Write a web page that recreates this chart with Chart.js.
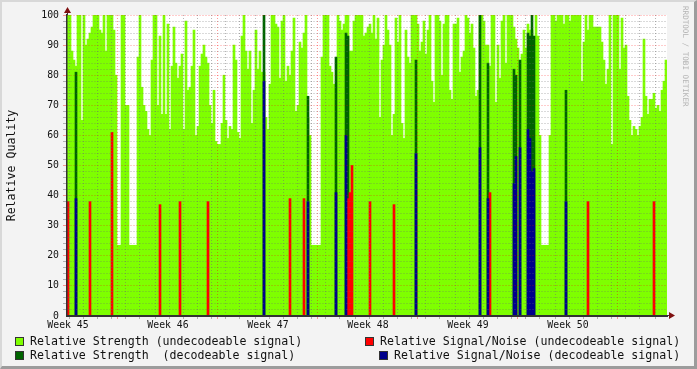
<!DOCTYPE html>
<html>
<head>
<meta charset="utf-8">
<script src="https://cdn.jsdelivr.net/npm/chart.js@4/dist/chart.umd.min.js"></script>
<style>
  html, body { margin: 0; padding: 0; background: #f3f3f3; }
  #wrap { position: relative; width: 697px; height: 369px; overflow: hidden; font-family: "DejaVu Sans Mono", monospace; }
  #c { position: absolute; left: 0; top: 0; }
  #frame { position: absolute; left: 0; top: 0; width: 697px; height: 369px; box-sizing: border-box;
    border-top: 2px solid #d8d8d8; border-left: 2px solid #d8d8d8;
    border-right: 3px solid #9c9c9c; border-bottom: 3px solid #9c9c9c; pointer-events: none; }
  .sw { position: absolute; width: 7px; height: 7px; border: 1px solid #333; }
  .lt { position: absolute; font-size: 11.6px; line-height: 14px; color: #111; white-space: pre; }
  #mark { position: absolute; left: 681px; top: 6px; writing-mode: vertical-rl; font-size: 7.6px;
    color: #b4b4b4; white-space: pre; }
</style>
</head>
<body>
<div id="wrap">
  <canvas id="c" width="697" height="369"></canvas>
  <div id="legend"></div>
  <div id="mark">RRDTOOL / TOBI OETIKER</div>
  <div id="frame"></div>
</div>
<script>
// Semanas no eixo x, 50 amostras por semana (uma a cada ~3,4 h)
const weeks = ['Week 45', 'Week 46', 'Week 47', 'Week 48', 'Week 49', 'Week 50'];
const samplesPerWeek = 50;

// Relative Strength (undecodeable signal) - uma amostra por posição
const strengthUndec = [
  100, 100, 88, 85, 83, 100, 100, 65, 100, 90,
  92, 94, 96, 100, 100, 100, 95, 94, 100, 88,
  100, 100, 100, 95, 80, 23.5, 23.5, 100, 100, 70,
  70, 23.5, 23.5, 23.5, 23.5, 86, 100, 76, 70, 68,
  62, 60, 85, 100, 100, 70, 93, 67, 100, 67,
  97, 62, 83, 96, 84, 79, 83, 87, 62, 98,
  75, 76, 83, 95, 60, 63, 83, 87, 90, 86,
  84, 70, 64, 75, 58, 57, 57, 64, 80, 65,
  59, 63, 62, 90, 85, 61, 59, 93, 100, 88,
  82, 88, 64, 75, 95, 82, 88, 81, 81, 66,
  62, 77, 100, 100, 97, 96, 79, 98, 100, 78,
  83, 80, 88, 99, 68, 70, 91, 89, 94, 100,
  66, 60, 23.5, 23.5, 23.5, 23.5, 23.5, 86, 100, 100,
  100, 83, 81, 77, 76, 100, 98, 95, 97, 100,
  100, 88, 88, 98, 100, 100, 100, 100, 93, 94,
  96, 97, 94, 100, 92, 99, 66, 85, 90, 100,
  95, 90, 60, 67, 99, 91, 100, 64, 59, 95,
  86, 84, 100, 100, 100, 97, 88, 91, 98, 87,
  95, 100, 78, 71, 100, 100, 98, 80, 97, 100,
  100, 75, 72, 97, 97, 99, 81, 86, 88, 100,
  99, 94, 97, 89, 73, 75, 100, 100, 98, 90,
  90, 83, 100, 100, 71, 90, 79, 98, 100, 84,
  100, 100, 100, 96, 92, 89, 76, 87, 95, 89,
  97, 95, 95, 84, 100, 93, 60, 23.5, 23.5, 23.5,
  23.5, 60, 100, 100, 98, 100, 100, 100, 97, 100,
  100, 98, 100, 100, 100, 100, 100, 78, 91, 100,
  95, 100, 100, 96, 96, 96, 96, 91, 85, 77,
  82, 100, 57, 100, 100, 100, 82, 99, 89, 90,
  73, 65, 60, 63, 62, 60, 63, 66, 92, 73,
  67, 72, 72, 74, 69, 70, 68, 75, 78, 85
];

// Relative Strength (decodeable signal) - picos esparsos
const strengthDecIdx = [4, 98, 120, 134, 139, 140, 174, 206, 210, 223, 224, 226, 230, 231, 232, 233, 249];
const strengthDecVal = [81, 100, 73, 86, 94, 93, 85, 100, 84, 82, 80, 85, 94, 93, 100, 93, 75];

// Relative Signal/Noise (undecodeable signal)
const snrUndecIdx = [0, 11, 22, 46, 56, 70, 111, 118, 140, 141, 142, 151, 163, 211, 260, 293];
const snrUndecVal = [38, 38, 61, 37, 38, 38, 39, 39, 39, 41, 50, 38, 37, 41, 38, 38];

// Relative Signal/Noise (decodeable signal)
const snrDecIdx = [4, 98, 120, 134, 139, 174, 206, 210, 223, 224, 226, 230, 231, 232, 233, 249];
const snrDecVal = [39, 78, 38, 41, 60, 54, 56, 39, 44, 53, 56, 62, 59, 48, 49, 38];

const nSamples = weeks.length * samplesPerWeek;
const labels = Array.from({ length: nSamples }, (_, i) => (i % samplesPerWeek === 0 ? weeks[i / samplesPerWeek] : ''));

// Monta uma série completa (null onde não há pico)
function sparse(idx, val) {
  const out = new Array(nSamples).fill(null);
  idx.forEach((k, j) => { out[k] = val[j]; });
  return out;
}

// Linhas de grade: uma por dia (menor) e uma por semana (maior)
const dayLines = new Set();
for (let k = 0; k <= 42; k++) dayLines.add(Math.round(0.65 + k * samplesPerWeek / 7));
const isWeekLine = (i) => i % samplesPerWeek === samplesPerWeek / 2;

const minorColor = 'rgba(110,110,110,0.5)';
const majorColor = 'rgba(255,0,0,0.4)';

function xGridColor(ctx) {
  const i = ctx.index;
  if (i === undefined || i === 0) return 'rgba(0,0,0,0)';
  if (isWeekLine(i)) return majorColor;
  if (dayLines.has(i)) return minorColor;
  return 'rgba(0,0,0,0)';
}

function yGridColor(ctx) {
  const v = ctx.tick ? ctx.tick.value : null;
  if (v === null || v === 0) return 'rgba(0,0,0,0)';
  return v % 10 === 0 ? majorColor : minorColor;
}

const plotBg = {
  id: 'plotBg',
  beforeDraw(chart) {
    const { ctx, chartArea: a } = chart;
    ctx.save();
    ctx.fillStyle = '#ffffff';
    ctx.fillRect(a.left, a.top, a.right - a.left, a.bottom - a.top);
    ctx.restore();
  }
};

// Setas no fim dos eixos
const arrows = {
  id: 'arrows',
  afterDraw(chart) {
    const { ctx, chartArea: a } = chart;
    ctx.save();
    ctx.strokeStyle = '#333';
    ctx.lineWidth = 1;
    ctx.beginPath();
    ctx.moveTo(a.left + 0.5, a.top); ctx.lineTo(a.left + 0.5, a.top - 4);
    ctx.moveTo(a.right, a.bottom - 0.5); ctx.lineTo(a.right + 3, a.bottom - 0.5);
    ctx.stroke();
    ctx.fillStyle = '#7f1010';
    ctx.beginPath();
    ctx.moveTo(a.left - 3, a.top - 2); ctx.lineTo(a.left + 4, a.top - 2); ctx.lineTo(a.left + 0.5, a.top - 8);
    ctx.fill();
    ctx.beginPath();
    ctx.moveTo(a.right + 2, a.bottom - 4); ctx.lineTo(a.right + 2, a.bottom + 3); ctx.lineTo(a.right + 8, a.bottom - 0.5);
    ctx.fill();
    ctx.restore();
  }
};

const barCommon = { grouped: false, barPercentage: 1, categoryPercentage: 1, borderWidth: 0 };

new Chart(document.getElementById('c'), {
  type: 'bar',
  data: {
    labels: labels,
    datasets: [
      { ...barCommon, label: 'Relative Strength (undecodeable signal)', data: strengthUndec, backgroundColor: '#7FFF00', order: 4 },
      { ...barCommon, label: 'Relative Strength  (decodeable signal)', data: sparse(strengthDecIdx, strengthDecVal), backgroundColor: '#006400', order: 3 },
      { ...barCommon, label: 'Relative Signal/Noise (undecodeable signal)', data: sparse(snrUndecIdx, snrUndecVal), backgroundColor: '#FF0000', order: 2 },
      { ...barCommon, label: 'Relative Signal/Noise (decodeable signal)', data: sparse(snrDecIdx, snrDecVal), backgroundColor: '#00008B', order: 1 }
    ]
  },
  options: {
    responsive: false,
    animation: false,
    layout: { padding: { left: 0, top: 15, right: 30, bottom: 0 } },
    plugins: { legend: { display: false }, tooltip: { enabled: false } },
    scales: {
      x: {
        offset: true,
        grid: { z: 1, offset: true, color: xGridColor, tickColor: xGridColor, lineWidth: 1, tickLength: 3 },
        border: { z: 2, display: true, color: '#333', width: 2, dash: [1, 2] },
        ticks: {
          autoSkip: false, maxRotation: 0, minRotation: 0, padding: 1,
          color: '#111', font: { family: 'DejaVu Sans Mono', size: 9.8 }
        },
        afterFit(scale) { scale.height = 53; }
      },
      y: {
        min: 0,
        max: 100,
        grid: { z: 1, color: yGridColor, tickColor: yGridColor, lineWidth: 1, tickLength: 4 },
        border: { z: 2, display: true, color: '#333', width: 1.5, dash: [1, 2] },
        ticks: {
          autoSkip: false, stepSize: 2, padding: 4, color: '#111',
          font: { family: 'DejaVu Sans Mono', size: 9.8 },
          callback: (v) => (v % 10 === 0 ? v : '')
        },
        title: {
          display: true, text: 'Relative Quality', color: '#111',
          font: { family: 'DejaVu Sans Mono', size: 11.6 }, padding: { top: 5, bottom: 0 }
        },
        afterFit(scale) { scale.width = 67; }
      }
    }
  },
  plugins: [plotBg, arrows]
});

// Legenda em duas colunas, como no gráfico original
const legendItems = [
  { text: 'Relative Strength (undecodeable signal)', color: '#7FFF00', x: 15, y: 337 },
  { text: 'Relative Strength  (decodeable signal)', color: '#006400', x: 15, y: 351 },
  { text: 'Relative Signal/Noise (undecodeable signal)', color: '#FF0000', x: 365, y: 337 },
  { text: 'Relative Signal/Noise (decodeable signal)', color: '#00008B', x: 379, y: 351 }
];
const legend = document.getElementById('legend');
legendItems.forEach((item) => {
  const sw = document.createElement('div');
  sw.className = 'sw';
  sw.style.left = item.x + 'px';
  sw.style.top = item.y + 'px';
  sw.style.background = item.color;
  legend.appendChild(sw);
  const t = document.createElement('div');
  t.className = 'lt';
  t.style.left = (item.x + 15) + 'px';
  t.style.top = (item.y - 3) + 'px';
  t.textContent = item.text;
  legend.appendChild(t);
});
</script>
</body>
</html>
